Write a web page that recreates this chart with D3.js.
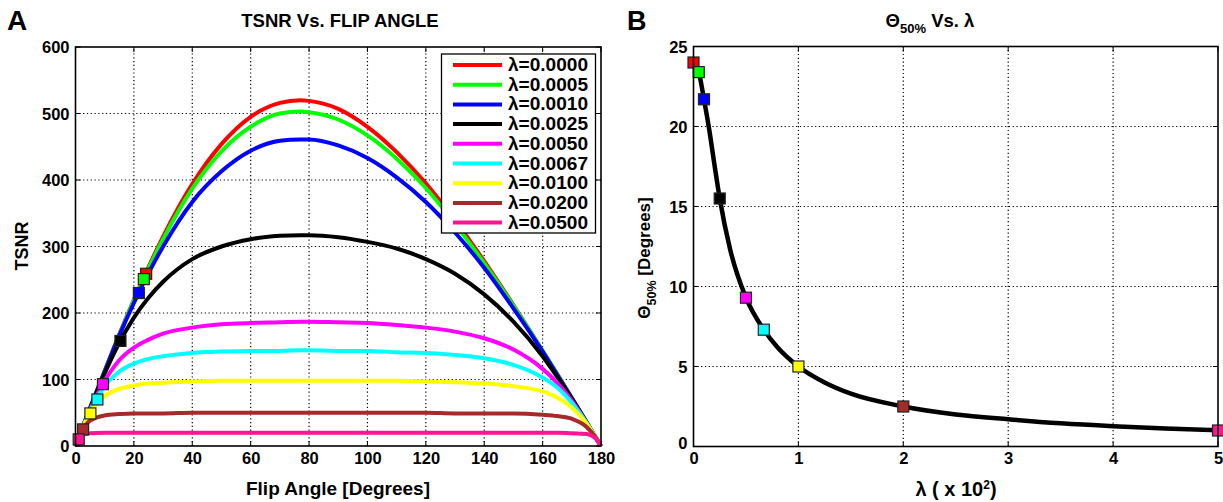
<!DOCTYPE html>
<html><head><meta charset="utf-8">
<script src="https://cdn.jsdelivr.net/npm/d3@7"></script>
<style>
html,body{margin:0;padding:0;background:#fff;}
svg{display:block;}
text{font-family:"Liberation Sans",Arial,sans-serif;font-weight:bold;fill:#000;}
</style></head>
<body>
<svg id="c" width="1223" height="502"></svg>
<script>
// ---- Panel A data ----
const flipAngles = [0, 2, 5, 10, 15, 20, 25, 30, 40, 50, 60, 70, 77, 80, 90, 100, 110, 120, 130, 140, 150, 160, 165, 170, 175, 178, 180];
const lambdaLabels = ["λ=0.0000","λ=0.0005","λ=0.0010","λ=0.0025","λ=0.0050","λ=0.0067","λ=0.0100","λ=0.0200","λ=0.0500"];
const seriesColors = ["#ff0000","#00ff00","#0000ff","#000000","#ff00ff","#00ffff","#ffff00","#a52a2a","#ff1493"];
const tsnrL0000 = [0, 23, 57, 113, 168, 220, 269, 315, 394, 454, 495, 516, 520, 519, 507, 480, 442, 395, 339, 278, 212, 143, 108, 72, 36, 14, 0];
const tsnrL0005 = [0, 23, 57, 113, 167, 219, 267, 311, 387, 443, 480, 500, 503, 502, 491, 467, 432, 388, 334, 275, 211, 143, 108, 72, 36, 14, 0];
const tsnrL0010 = [0, 23, 57, 112, 166, 215, 260, 300, 367, 413, 444, 459, 461, 461, 452, 433, 404, 367, 321, 268, 207, 142, 107, 72, 36, 14, 0];
const tsnrL0025 = [0, 23, 56, 109, 155, 193, 223, 247, 281, 300, 311, 316, 317, 317, 314, 307, 297, 281, 259, 228, 187, 135, 104, 71, 36, 14, 0];
const tsnrL0050 = [0, 23, 55, 98, 129, 148, 160, 169, 178, 183, 185, 186, 187, 187, 186, 185, 182, 178, 172, 162, 145, 116, 95, 68, 35, 14, 0];
const tsnrL0067 = [0, 23, 53, 90, 112, 124, 131, 135, 140, 142, 143, 143, 144, 144, 143, 143, 141, 140, 137, 132, 122, 103, 88, 65, 35, 14, 0];
const tsnrL0100 = [0, 22, 50, 75, 86, 91, 94, 95, 97, 98, 98, 98, 98, 98, 98, 98, 98, 97, 96, 94, 90, 82, 73, 58, 34, 14, 0];
const tsnrL0200 = [0, 21, 38, 46, 48, 49, 49, 49, 50, 50, 50, 50, 50, 50, 50, 50, 50, 50, 49, 49, 49, 47, 45, 41, 29, 14, 0];
const tsnrL0500 = [0, 15, 19, 20, 20, 20, 20, 20, 20, 20, 20, 20, 20, 20, 20, 20, 20, 20, 20, 20, 20, 20, 20, 19, 18, 12, 0];
const tsnrSeries = [tsnrL0000, tsnrL0005, tsnrL0010, tsnrL0025, tsnrL0050, tsnrL0067, tsnrL0100, tsnrL0200, tsnrL0500];
// 50% points (flip angle, TSNR)
const halfAngle = [24.2, 23.4, 21.7, 15.4, 9.4, 7.5, 5.1, 2.6, 1.1];
const halfTsnr = [259, 251, 230, 158, 93, 70, 49, 25, 10];
const xTicksA = [0, 20, 40, 60, 80, 100, 120, 140, 160, 180];
const yTicksA = [0, 100, 200, 300, 400, 500, 600];

// ---- Panel B data ----
const lambdaX100 = [0, 0.05, 0.1, 0.25, 0.5, 0.67, 1, 2, 5];
const theta50 = [24.0, 23.4, 21.7, 15.5, 9.3, 7.3, 5.0, 2.5, 1.0];
const curveLambda = [0, 0.05, 0.1, 0.15, 0.2, 0.25, 0.35, 0.5, 0.67, 0.8, 1, 1.25, 1.5, 2, 2.5, 3, 3.5, 4, 4.5, 5];
const curveTheta = [24.0, 23.4, 21.7, 19.8, 17.6, 15.5, 12.3, 9.3, 7.3, 6.2, 5.0, 4.0, 3.3, 2.5, 2.0, 1.7, 1.45, 1.27, 1.13, 1.02];
const xTicksB = [0, 1, 2, 3, 4, 5];
const yTicksB = [0, 5, 10, 15, 20, 25];

const svg = d3.select("#c");

function frame(g, x, y, xt, yt) {
  const [x0, x1] = x.range(), [y0, y1] = y.range();
  xt.slice(1, -1).forEach(t => g.append("line").attr("x1", x(t)).attr("x2", x(t)).attr("y1", y0).attr("y2", y1)
    .attr("stroke", "#000").attr("stroke-width", 1.2).attr("stroke-dasharray", "1.2,2.6"));
  yt.slice(1, -1).forEach(t => g.append("line").attr("x1", x0).attr("x2", x1).attr("y1", y(t)).attr("y2", y(t))
    .attr("stroke", "#000").attr("stroke-width", 1.2).attr("stroke-dasharray", "1.2,2.6"));
  xt.forEach(t => {
    g.append("line").attr("x1", x(t)).attr("x2", x(t)).attr("y1", y0).attr("y2", y0 - 5).attr("stroke", "#000");
    g.append("line").attr("x1", x(t)).attr("x2", x(t)).attr("y1", y1).attr("y2", y1 + 5).attr("stroke", "#000");
  });
  yt.forEach(t => {
    g.append("line").attr("x1", x0).attr("x2", x0 + 5).attr("y1", y(t)).attr("y2", y(t)).attr("stroke", "#000");
    g.append("line").attr("x1", x1).attr("x2", x1 - 5).attr("y1", y(t)).attr("y2", y(t)).attr("stroke", "#000");
  });
}
function axesLabels(g, x, y, xt, yt) {
  const y0 = y.range()[0], x0 = x.range()[0];
  const xa = d3.axisBottom(x).tickValues(xt).tickSize(0).tickPadding(6).tickFormat(d3.format("d"));
  const ya = d3.axisLeft(y).tickValues(yt).tickSize(0).tickPadding(6).tickFormat(d3.format("d"));
  const gx = g.append("g").attr("transform", `translate(0,${y0})`).call(xa);
  const gy = g.append("g").attr("transform", `translate(${x0},0)`).call(ya);
  [gx, gy].forEach(a => {
    a.select(".domain").remove();
    a.selectAll("text").attr("font-family", "Liberation Sans, Arial, sans-serif").attr("font-weight", "bold")
      .attr("font-size", 16.5).attr("fill", "#000");
  });
  gy.selectAll("text").attr("dy", "0.36em");
  return [gx, gy];
}
function box(g, x, y) {
  const [x0, x1] = x.range(), [y0, y1] = y.range();
  g.append("rect").attr("x", x0).attr("y", y1).attr("width", x1 - x0).attr("height", y0 - y1)
    .attr("fill", "none").attr("stroke", "#000").attr("stroke-width", 1.6);
}

// ===== Panel A =====
const xA = d3.scaleLinear().domain([0, 180]).range([75.5, 601]);
const yA = d3.scaleLinear().domain([0, 600]).range([446, 47]);
const gA = svg.append("g");
frame(gA, xA, yA, xTicksA, yTicksA);
const lineA = d3.line().x((d, i) => xA(flipAngles[i])).y(d => yA(d)).curve(d3.curveMonotoneX);
tsnrSeries.forEach((s, k) => gA.append("path").attr("d", lineA(s)).attr("fill", "none")
  .attr("stroke", seriesColors[k]).attr("stroke-width", 4).attr("stroke-linejoin", "round"));
halfAngle.forEach((a, k) => gA.append("rect").attr("x", xA(a) - 5.5).attr("y", yA(halfTsnr[k]) - 5.5)
  .attr("width", 11).attr("height", 11).attr("fill", seriesColors[k]).attr("stroke", "#222").attr("stroke-width", 1.2));
box(gA, xA, yA);
axesLabels(gA, xA, yA, xTicksA, yTicksA);
const leg = gA.append("g");
leg.append("rect").attr("x", 441.5).attr("y", 54).attr("width", 154).attr("height", 179)
  .attr("fill", "#fff").attr("stroke", "#000").attr("stroke-width", 1.3);
lambdaLabels.forEach((lab, k) => {
  const cy = 65 + k * 19.7;
  leg.append("line").attr("x1", 453).attr("x2", 502).attr("y1", cy).attr("y2", cy)
    .attr("stroke", seriesColors[k]).attr("stroke-width", 4);
  leg.append("text").attr("x", 508).attr("y", cy + 6).attr("font-size", 17.5).attr("textLength", 80)
    .attr("lengthAdjust", "spacingAndGlyphs").text(lab);
});
gA.append("text").attr("x", 340).attr("y", 27).attr("text-anchor", "middle").attr("font-size", 18.5).text("TSNR Vs. FLIP ANGLE");
gA.append("text").attr("x", 338).attr("y", 495).attr("text-anchor", "middle").attr("font-size", 19).text("Flip Angle [Degrees]");
gA.append("text").attr("transform", "translate(28,246) rotate(-90)").attr("text-anchor", "middle").attr("font-size", 18).text("TSNR");
svg.append("text").attr("x", 7).attr("y", 30).attr("font-size", 28).text("A");

// ===== Panel B =====
const xB = d3.scaleLinear().domain([0, 5]).range([693.5, 1218]);
const yB = d3.scaleLinear().domain([0, 25]).range([446.5, 46.5]);
const gB = svg.append("g");
frame(gB, xB, yB, xTicksB, yTicksB);
const lineB = d3.line().x((d, i) => xB(curveLambda[i])).y(d => yB(d)).curve(d3.curveMonotoneX);
gB.append("path").attr("d", lineB(curveTheta)).attr("fill", "none").attr("stroke", "#000").attr("stroke-width", 4.5);
lambdaX100.forEach((l, k) => gB.append("rect").attr("x", xB(l) - 5.5).attr("y", yB(theta50[k]) - 5.5)
  .attr("width", 11).attr("height", 11).attr("fill", seriesColors[k]).attr("stroke", "#222").attr("stroke-width", 1.2));
box(gB, xB, yB);
const [gxB, gyB] = axesLabels(gB, xB, yB, xTicksB, yTicksB);
gyB.selectAll("text").filter(d => d === 0).attr("dy", "0.1em");
const tB = gB.append("text").attr("x", 930).attr("y", 27).attr("text-anchor", "middle").attr("font-size", 18.5);
tB.append("tspan").text("Θ");
tB.append("tspan").attr("dy", 6).attr("font-size", 13).text("50%");
tB.append("tspan").attr("dy", -6).text(" Vs. λ");
const yl = gB.append("text").attr("transform", "translate(650,258) rotate(-90)").attr("text-anchor", "middle").attr("font-size", 17);
yl.append("tspan").text("Θ");
yl.append("tspan").attr("dy", 6).attr("font-size", 12.5).text("50%");
yl.append("tspan").attr("dy", -6).text("  [Degrees]");
const xl = gB.append("text").attr("x", 956).attr("y", 496).attr("text-anchor", "middle").attr("font-size", 20);
xl.append("tspan").text("λ ( x 10");
xl.append("tspan").attr("dy", -7).attr("font-size", 12).text("2");
xl.append("tspan").attr("dy", 7).text(")");
svg.append("text").attr("x", 627).attr("y", 30).attr("font-size", 27).text("B");
</script>
</body></html>
